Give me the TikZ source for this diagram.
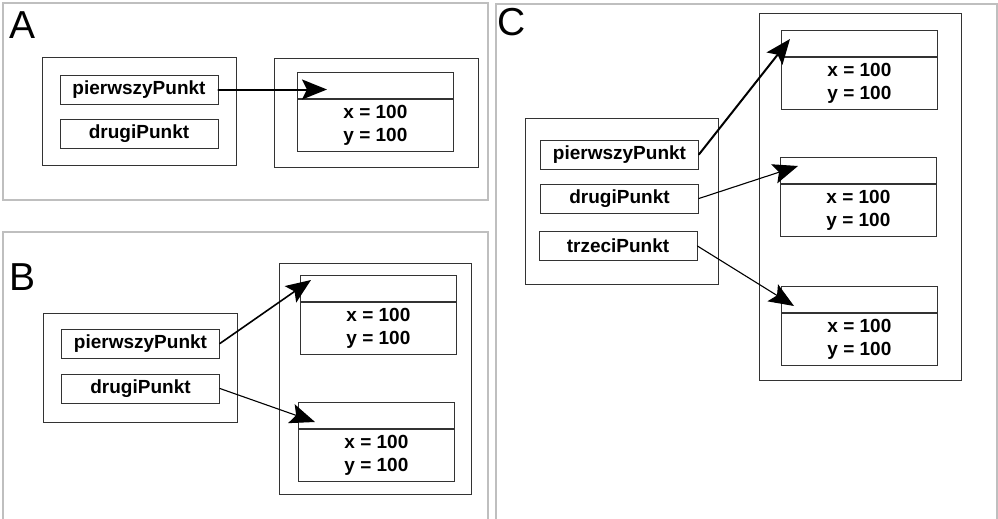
\documentclass[tikz,border=0pt]{standalone}
\usepackage{fontspec}
\setmainfont{Liberation Sans}
\usetikzlibrary{
    arrows.meta, % Large arrow heads on the pointers.
    positioning  % Stacking the two halves of each object.
}

\begin{document}
\begin{tikzpicture}[%
        x = 1pt,
        y = -1pt,
        line width = 0.8pt,
        line cap = round,
        panel/.style = {draw = black!25, line width = 1.2pt},
        holder/.style = {draw = black!80},
        ref/.style = {draw = black!80, minimum width = 158pt, minimum height = 29pt,
            inner sep = 0pt, font = \fontsize{19}{23}\selectfont\bfseries},
        head/.style = {draw = black!80, minimum width = 156pt, minimum height = 26pt,
            inner sep = 0pt, anchor = north west},
        body/.style = {draw = black!80, minimum width = 156pt, minimum height = 52pt,
            inner sep = 0pt, align = center, font = \fontsize{19}{23}\selectfont\bfseries},
        ptr/.style = {-{Stealth[length = 25pt, width = 20pt, inset = 5pt]}, line width = 1.1pt},
        letter/.style = {font = \fontsize{39}{39}\selectfont, anchor = north west, inner sep = 0pt}
    ]

        \useasboundingbox (0,0) rectangle (998,519);

        % Frames of the three panels.
        \draw[panel] (3,3) rectangle (488,200);
        \draw[panel] (3,519) -- (3,232) -- (488,232) -- (488,519);
        \draw[panel] (496,519) -- (496,4) -- (997,4) -- (997,519);

        % Panel letters.
        \node[letter] (labA) at (9,11) {A};
        \node[letter] (labB) at (9,263) {B};
        \node[letter] (labC) at (497,8) {C};

        % Boxes holding the references and the objects.
        \draw[holder] (42,57) rectangle (236,165);
        \draw[holder] (274,58) rectangle (478,167);
        \draw[holder] (43,313) rectangle (237,422);
        \draw[holder] (279,263) rectangle (471,494);
        \draw[holder] (525,118) rectangle (718,284);
        \draw[holder] (759,13) rectangle (961,380);

        % References, panel A.
        \node[ref] (refA1) at (139,89.5) {pierwszyPunkt};
        \node[ref] (refA2) at (139,133.5) {drugiPunkt};

        % References, panel B.
        \node[ref] (refB1) at (140.5,343.5) {pierwszyPunkt};
        \node[ref] (refB2) at (140.5,388.5) {drugiPunkt};

        % References, panel C.
        \node[ref] (refC1) at (619.5,154.5) {pierwszyPunkt};
        \node[ref] (refC2) at (619.5,198.5) {drugiPunkt};
        \node[ref] (refC3) at (618,246) {trzeciPunkt};

        % Objects: an empty head and a body with the fields.
        \node[head] (headA) at (297,72) {};
        \node[body, below = 0pt of headA] (bodyA) {x = 100\\y = 100};
        \node[head] (headB1) at (300,275) {};
        \node[body, below = 0pt of headB1] (bodyB1) {x = 100\\y = 100};
        \node[head] (headB2) at (298,402) {};
        \node[body, below = 0pt of headB2] (bodyB2) {x = 100\\y = 100};
        \node[head] (headC1) at (781,30) {};
        \node[body, below = 0pt of headC1] (bodyC1) {x = 100\\y = 100};
        \node[head] (headC2) at (780,157) {};
        \node[body, below = 0pt of headC2] (bodyC2) {x = 100\\y = 100};
        \node[head] (headC3) at (781,286) {};
        \node[body, below = 0pt of headC3] (bodyC3) {x = 100\\y = 100};

        % Where the pointers end.
        \coordinate (tipA) at (327,89.5);
        \coordinate (tipB1) at (311,280);
        \coordinate (tipB2) at (315,422);
        \coordinate (tipC1) at (790,39);
        \coordinate (tipC2) at (798,166);
        \coordinate (tipC3) at (794,306);

        % Connect the references to the objects.
        \draw[ptr, line width = 2pt] (refA1.east) -- (tipA);
        \draw[ptr, line width = 1.6pt] (refB1.east) -- (tipB1);
        \draw[ptr] (refB2.east) -- (tipB2);
        \draw[ptr, line width = 2pt] (refC1.east) -- (tipC1);
        \draw[ptr] (refC2.east) -- (tipC2);
        \draw[ptr] (refC3.east) -- (tipC3);
    \end{tikzpicture}
\end{document}
